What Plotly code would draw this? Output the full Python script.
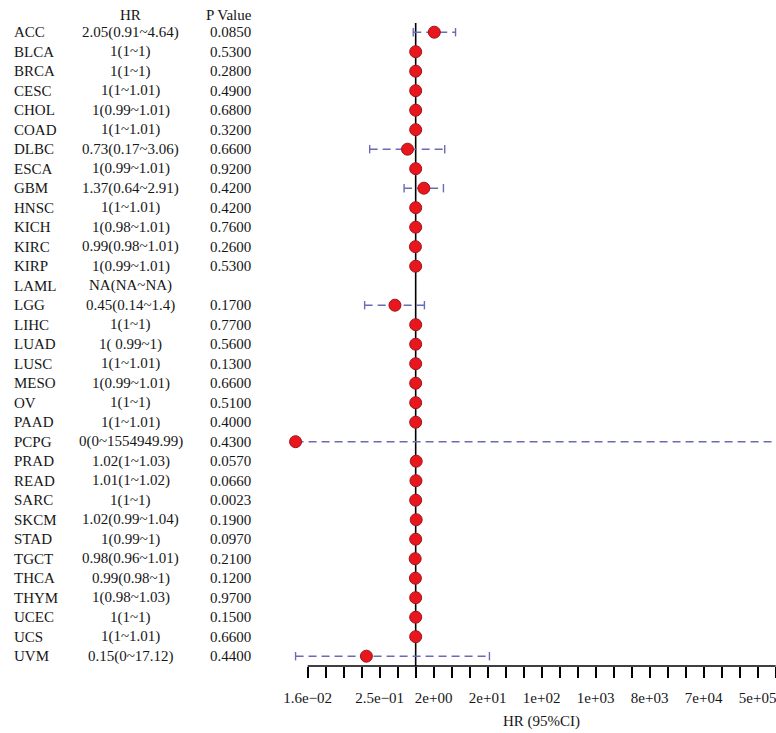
import numpy as np
import plotly.graph_objects as go

# Cox regression results per TCGA cohort
cancers = ["ACC", "BLCA", "BRCA", "CESC", "CHOL", "COAD", "DLBC", "ESCA", "GBM",
           "HNSC", "KICH", "KIRC", "KIRP", "LAML", "LGG", "LIHC", "LUAD", "LUSC",
           "MESO", "OV", "PAAD", "PCPG", "PRAD", "READ", "SARC", "SKCM", "STAD",
           "TGCT", "THCA", "THYM", "UCEC", "UCS", "UVM"]
hr = [2.05, 1, 1, 1, 1, 1, 0.73, 1, 1.37, 1, 1, 0.99, 1, None, 0.45, 1, 1, 1,
      1, 1, 1, 0, 1.02, 1.01, 1, 1.02, 1, 0.98, 0.99, 1, 1, 1, 0.15]
hr_low = [0.91, 1, 1, 1, 0.99, 1, 0.17, 0.99, 0.64, 1, 0.98, 0.98, 0.99, None, 0.14, 1, 0.99, 1,
          0.99, 1, 1, 0, 1, 1, 1, 0.99, 0.99, 0.96, 0.98, 0.98, 1, 1, 0]
hr_high = [4.64, 1, 1, 1.01, 1.01, 1.01, 3.06, 1.01, 2.91, 1.01, 1.01, 1.01, 1.01, None, 1.4, 1, 1, 1.01,
           1.01, 1, 1.01, 1554949.99, 1.03, 1.02, 1, 1.04, 1, 1.01, 1, 1.03, 1, 1.01, 17.12]
hr_text = ["2.05(0.91~4.64)", "1(1~1)", "1(1~1)", "1(1~1.01)", "1(0.99~1.01)", "1(1~1.01)",
           "0.73(0.17~3.06)", "1(0.99~1.01)", "1.37(0.64~2.91)", "1(1~1.01)", "1(0.98~1.01)",
           "0.99(0.98~1.01)", "1(0.99~1.01)", "NA(NA~NA)", "0.45(0.14~1.4)", "1(1~1)",
           "1( 0.99~1)", "1(1~1.01)", "1(0.99~1.01)", "1(1~1)", "1(1~1.01)",
           "0(0~1554949.99)", "1.02(1~1.03)", "1.01(1~1.02)", "1(1~1)", "1.02(0.99~1.04)",
           "1(0.99~1)", "0.98(0.96~1.01)", "0.99(0.98~1)", "1(0.98~1.03)", "1(1~1)",
           "1(1~1.01)", "0.15(0~17.12)"]
p_value = [0.0850, 0.5300, 0.2800, 0.4900, 0.6800, 0.3200, 0.6600, 0.9200, 0.4200,
           0.4200, 0.7600, 0.2600, 0.5300, None, 0.1700, 0.7700, 0.5600, 0.1300,
           0.6600, 0.5100, 0.4000, 0.4300, 0.0570, 0.0660, 0.0023, 0.1900, 0.0970,
           0.2100, 0.1200, 0.9700, 0.1500, 0.6600, 0.4400]

# x axis ticks: powers of two, labelled every few steps
tick_exp = list(range(-6, 21))
tick_vals = [2.0 ** k for k in tick_exp]
tick_labels = {-6: "1.6e\u221202", -2: "2.5e\u221201", 1: "2e+00", 4: "2e+01", 7: "1e+02",
               10: "1e+03", 13: "8e+03", 16: "7e+04", 19: "5e+05"}
tick_text = [tick_labels.get(k, "") for k in tick_exp]

# values of zero cannot sit on a log axis; they are drawn at the clip floor
X_FLOOR = 0.0098

FONT = "Liberation Serif, Times New Roman, serif"
TXT = "#161616"
CI_COLOR = "#6a6ab6"

W, H = 776, 733
TOP, BOTTOM = 23, 67
PLOT_H = H - TOP - BOTTOM

rows = list(range(len(cancers)))
idx = [i for i in rows if hr[i] is not None]

def clip(v):
    return max(v, X_FLOOR)

fig = go.Figure()

# dashed confidence-interval segments
seg_x, seg_y = [], []
for i in idx:
    seg_x += [clip(hr_low[i]), clip(hr_high[i]), None]
    seg_y += [i, i, None]
fig.add_trace(go.Scatter(x=seg_x, y=seg_y, mode="lines",
                         line=dict(color=CI_COLOR, width=1.4, dash="8px,5px"),
                         hoverinfo="skip", showlegend=False))

# end caps of the intervals
cap_x = [clip(hr_low[i]) for i in idx] + [clip(hr_high[i]) for i in idx]
cap_y = idx + idx
fig.add_trace(go.Scatter(x=cap_x, y=cap_y, mode="markers",
                         marker=dict(symbol="line-ns", size=6,
                                     line=dict(color=CI_COLOR, width=1.4)),
                         hoverinfo="skip", showlegend=False))

# hazard ratio points
fig.add_trace(go.Scatter(x=[clip(hr[i]) for i in idx], y=idx, mode="markers",
                         marker=dict(symbol="circle", size=12, color="#e8161d",
                                     line=dict(color="#a3131a", width=1)),
                         text=[cancers[i] for i in idx], hoverinfo="text+x",
                         showlegend=False, cliponaxis=False))

# reference line at HR = 1 and the x axis baseline
fig.add_shape(type="line", xref="x", yref="paper", x0=1, x1=1, y0=0, y1=1,
              line=dict(color="black", width=1.6), layer="below")
fig.add_shape(type="line", xref="x", yref="paper", x0=tick_vals[0], x1=tick_vals[-1],
              y0=0, y1=0, line=dict(color="black", width=1.5))

# text table on the left
annotations = []
for i in rows:
    annotations.append(dict(x=12 / W, y=i, xref="paper", yref="y", text=cancers[i],
                            xanchor="left", yanchor="middle", showarrow=False))
    annotations.append(dict(x=130.8 / W, y=i, xref="paper", yref="y", text=hr_text[i],
                            xanchor="center", yanchor="middle", showarrow=False))
    ptxt = "" if p_value[i] is None else f"{p_value[i]:.4f}"
    annotations.append(dict(x=230 / W, y=i, xref="paper", yref="y", text=ptxt,
                            xanchor="center", yanchor="middle", showarrow=False))
header_y = 1 + (TOP - 14.5) / PLOT_H
annotations.append(dict(x=130.5 / W, y=header_y, xref="paper", yref="paper", text="HR",
                        xanchor="center", yanchor="middle", showarrow=False))
annotations.append(dict(x=229 / W, y=header_y, xref="paper", yref="paper", text="P Value",
                        xanchor="center", yanchor="middle", showarrow=False))
# axis title, centred under the tick span
annotations.append(dict(x=np.log10(np.sqrt(tick_vals[0] * tick_vals[-1])),
                        y=-(721.5 - (H - BOTTOM)) / PLOT_H,
                        xref="x", yref="paper", text="HR (95%CI)",
                        xanchor="center", yanchor="middle", showarrow=False))

fig.update_layout(
    width=W, height=H,
    margin=dict(l=0, r=0, t=TOP, b=BOTTOM),
    paper_bgcolor="white", plot_bgcolor="white",
    font=dict(family=FONT, size=15, color=TXT),
    annotations=annotations,
    showlegend=False,
    xaxis=dict(type="log", range=[-6.952, 6.026], tickvals=tick_vals, ticktext=tick_text,
               ticks="outside", ticklen=11, tickwidth=1.5, tickcolor="black",
               ticklabelstandoff=7, ticklabeloverflow="allow",
               showline=False, showgrid=False, zeroline=False,
               tickfont=dict(family=FONT, size=15, color=TXT)),
    yaxis=dict(range=[32.503, -0.472], visible=False, showgrid=False, zeroline=False),
)

fig.write_html("out.html")
